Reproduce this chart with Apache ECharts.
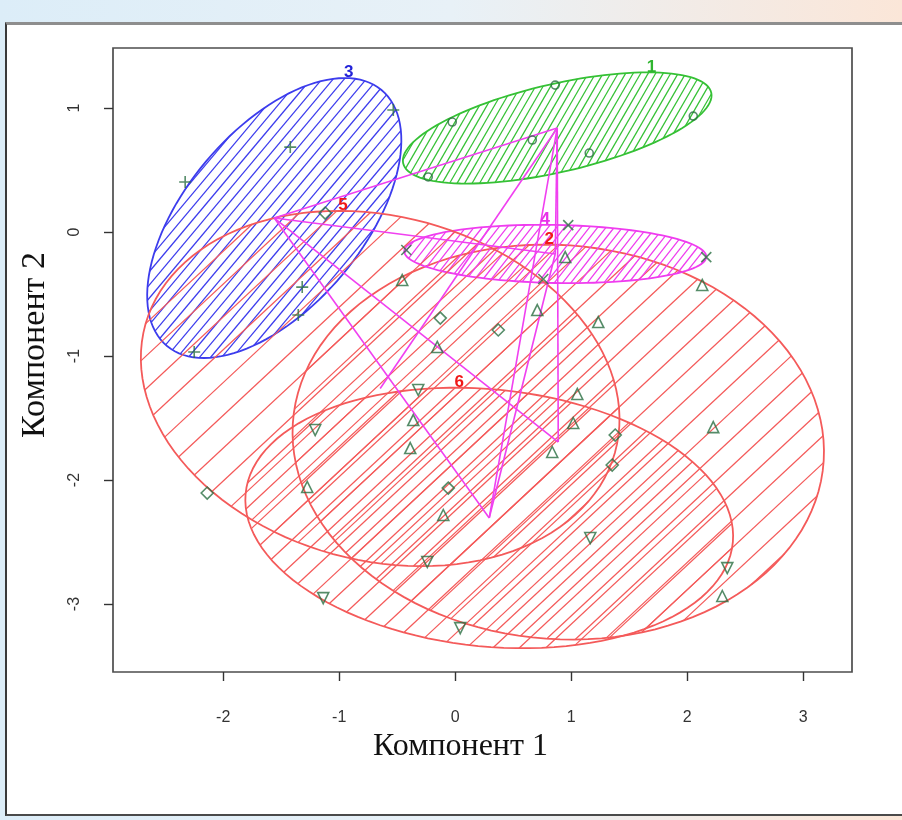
<!DOCTYPE html>
<html><head><meta charset="utf-8">
<script src="https://cdn.jsdelivr.net/npm/echarts@6/dist/echarts.min.js"></script>
<style>
html,body{margin:0;padding:0;}
body{width:902px;height:820px;position:relative;overflow:hidden;
 background:linear-gradient(90deg,#dcedf8 0%,#e8f1f7 50%,#fbe6d8 100%);}
#frame{position:absolute;left:5px;top:22px;width:897px;height:794px;background:#fff;
 border-left:2px solid #3a3a3a;border-bottom:2px solid #4a4a4a;border-top:3px solid #8e8e8e;box-sizing:border-box;}
#c{position:absolute;left:0;top:0;width:902px;height:820px;}
</style>
</head><body><div id="frame"></div><div id="c"></div>
<script>
// ---------- data ----------
const xTicks = [-2, -1, 0, 1, 2, 3];
const yTicks = [-3, -2, -1, 0, 1];
const xRange = [-2.95, 3.42];
const yRange = [-3.548, 1.484];

// cluster ellipses (data units): label, center, semi-axes, rotation (deg)
const clusterLabels = ['1', '2', '3', '4', '5', '6'];
const ellipseCX = [0.879, 0.888, -1.560, 0.862, -0.647, 0.293];
const ellipseCY = [0.839, -1.694, 0.113, -0.177, -1.262, -2.306];
const ellipseA  = [1.358, 2.293, 1.387, 1.302, 2.090, 2.109];
const ellipseB  = [0.356, 1.589, 0.742, 0.234, 1.393, 1.037];
const ellipseAngle = [12.0, -3.75, 46.55, -1.0, -12.4, -5.25];

// pairs of clusters joined by distance lines (1-based labels)
const linkPairs = [[1,3],[1,4],[1,2],[1,5],[1,6],[3,4],[3,2],[3,6],[4,6]];

// observations per cluster
const c1X = [0.862, -0.026, 0.664, 1.155, 2.052, -0.233];
const c1Y = [1.185, 0.887, 0.742, 0.637, 0.935, 0.444];
const c2X = [-0.457, 0.707, 1.233, 2.129, -0.155, 1.052, 1.017, -0.362, -0.388, 0.836, 2.224, -1.276, -0.103, 2.302, 0.948];
const c2Y = [-0.387, -0.629, -0.726, -0.427, -0.927, -1.306, -1.540, -1.516, -1.742, -1.774, -1.573, -2.056, -2.282, -2.935, -0.202];
const c3X = [-2.328, -1.422, -0.534, -1.319, -1.353, -2.250];
const c3Y = [0.403, 0.685, 0.984, -0.444, -0.669, -0.968];
const c4X = [-0.422, 0.974, 2.164, 0.759];
const c4Y = [-0.145, 0.056, -0.202, -0.379];
const c5X = [-1.121, -0.129, 0.371, -0.060, -2.138, 1.379, 1.353];
const c5Y = [0.153, -0.694, -0.790, -2.065, -2.105, -1.637, -1.879];
const c6X = [-0.319, -1.207, -0.241, -1.138, 0.043, 1.164, 2.345];
const c6Y = [-1.274, -1.597, -2.661, -2.952, -3.194, -2.468, -2.710];

// ---------- styles ----------
const ellColors = ['#35c135', '#f45a5a', '#3c3ced', '#ef3cef', '#f45a5a', '#f45a5a'];
const labelColors = ['#2fb52f', '#f01818', '#2323d8', '#e830e8', '#f01818', '#f01818'];
const hatchAngle = [60, 43, 50, 52, 43, 43];
const hatchGap = [6.5, 20, 8.5, 6.5, 24, 18];
const ptColor = '#2a6f42';

const zip = (xs, ys) => xs.map((x, i) => [x, ys[i]]);

function frame(i, api) {
  const cx = ellipseCX[i], cy = ellipseCY[i], a = ellipseA[i], b = ellipseB[i];
  const th = ellipseAngle[i] * Math.PI / 180;
  const C = api.coord([cx, cy]);
  const Pu = api.coord([cx + a * Math.cos(th), cy + a * Math.sin(th)]);
  const Pv = api.coord([cx - b * Math.sin(th), cy + b * Math.cos(th)]);
  return { C, U: [Pu[0] - C[0], Pu[1] - C[1]], V: [Pv[0] - C[0], Pv[1] - C[1]] };
}
function at(f, t) {
  return [f.C[0] + f.U[0] * Math.cos(t) + f.V[0] * Math.sin(t),
          f.C[1] + f.U[1] * Math.cos(t) + f.V[1] * Math.sin(t)];
}

function renderEllipse(params, api) {
  const i = api.value(2);
  const f = frame(i, api);
  const pts = [];
  for (let k = 0; k <= 120; k++) pts.push(at(f, 2 * Math.PI * k / 120));
  const children = [];
  const al = hatchAngle[i] * Math.PI / 180;
  const n = [Math.sin(al), Math.cos(al)];
  const nC = n[0] * f.C[0] + n[1] * f.C[1];
  const nu = n[0] * f.U[0] + n[1] * f.U[1];
  const nv = n[0] * f.V[0] + n[1] * f.V[1];
  const R = Math.hypot(nu, nv), phi = Math.atan2(nv, nu);
  const g = hatchGap[i];
  for (let k = Math.ceil((nC - R) / g); k <= Math.floor((nC + R) / g); k++) {
    const c = (k * g - nC) / R;
    if (Math.abs(c) >= 1) continue;
    const w = Math.acos(c);
    const p1 = at(f, phi + w), p2 = at(f, phi - w);
    children.push({ type: 'line', shape: { x1: p1[0], y1: p1[1], x2: p2[0], y2: p2[1] },
      style: { stroke: ellColors[i], lineWidth: 1.25 } });
  }
  children.push({ type: 'polygon', shape: { points: pts },
    style: { fill: 'none', stroke: ellColors[i], lineWidth: 1.8 } });
  return { type: 'group', children };
}

function renderLink(params, api) {
  const p1 = api.coord([api.value(0), api.value(1)]);
  const p2 = api.coord([api.value(2), api.value(3)]);
  return { type: 'line', shape: { x1: p1[0], y1: p1[1], x2: p2[0], y2: p2[1] },
    style: { stroke: '#f040f0', lineWidth: 1.6 } };
}

function renderLabel(params, api) {
  const i = api.value(2);
  const f = frame(i, api);
  const psi = Math.atan2(f.V[1], f.U[1]);
  const top = at(f, psi + Math.PI);
  return { type: 'text', x: top[0] + 4, y: top[1] + 3,
    style: { text: clusterLabels[i], fill: labelColors[i], font: 'bold 17px "Liberation Sans"',
      align: 'center', verticalAlign: 'bottom' } };
}

const ellData = ellipseCX.map((x, i) => [x, ellipseCY[i], i]);
const linkData = linkPairs.map(([p, q]) => [ellipseCX[p - 1], ellipseCY[p - 1], ellipseCX[q - 1], ellipseCY[q - 1]]);

const ptStyle = { color: 'transparent', borderColor: ptColor, borderWidth: 1.6 };
function pts(data, symbol, size, rot) {
  return { type: 'scatter', data, symbol, symbolSize: size, symbolRotate: rot || 0,
    itemStyle: ptStyle, z: 5, silent: true };
}

const chart = echarts.init(document.getElementById('c'), null, { renderer: 'canvas' });
chart.setOption({
  animation: false,
  backgroundColor: 'transparent',
  grid: { left: 113, top: 48, width: 739, height: 624, show: true, borderColor: '#4d4d4d', borderWidth: 1.7,
    backgroundColor: 'transparent' },
  xAxis: {
    type: 'value', min: xRange[0], max: xRange[1],
    splitLine: { show: false }, axisLine: { show: false, onZero: false },
    axisTick: { show: true, customValues: xTicks, length: 9, lineStyle: { color: '#333', width: 1.4 } },
    axisLabel: { customValues: xTicks, margin: 38, fontFamily: 'Liberation Sans', fontSize: 16, color: '#333' },
    name: 'Компонент 1', nameLocation: 'middle', nameGap: 57,
    nameTextStyle: { fontFamily: 'Liberation Serif', fontSize: 32, color: '#111', padding: [0, 44, 0, 0] }
  },
  yAxis: {
    type: 'value', min: yRange[0], max: yRange[1],
    splitLine: { show: false }, axisLine: { show: false, onZero: false },
    axisTick: { show: true, customValues: yTicks, length: 9, lineStyle: { color: '#333', width: 1.4 } },
    axisLabel: { customValues: yTicks, rotate: 90, margin: 30, fontFamily: 'Liberation Sans', fontSize: 16, color: '#333' },
    name: 'Компонент 2', nameLocation: 'middle', nameGap: 61, nameRotate: 90,
    nameTextStyle: { fontFamily: 'Liberation Serif', fontSize: 34, color: '#111', padding: [0, 0, 0, 30] }
  },
  series: [
    { type: 'custom', renderItem: renderEllipse, data: ellData, z: 2, silent: true, clip: false },
    { type: 'custom', renderItem: renderLink, data: linkData, z: 3, silent: true },
    pts(zip(c1X, c1Y), 'circle', 8),
    pts(zip(c2X, c2Y), 'triangle', 11),
    pts(zip(c3X, c3Y), 'path://M5 0L5 10M0 5L10 5', 12),
    pts(zip(c4X, c4Y), 'path://M0 0L10 10M10 0L0 10', 10),
    pts(zip(c5X, c5Y), 'path://M5 0L10 5L5 10L0 5Z', 12),
    pts(zip(c6X, c6Y), 'triangle', 11, 180),
    { type: 'custom', renderItem: renderLabel, data: ellData, z: 6, silent: true, clip: false }
  ]
});
</script>
</body></html>
